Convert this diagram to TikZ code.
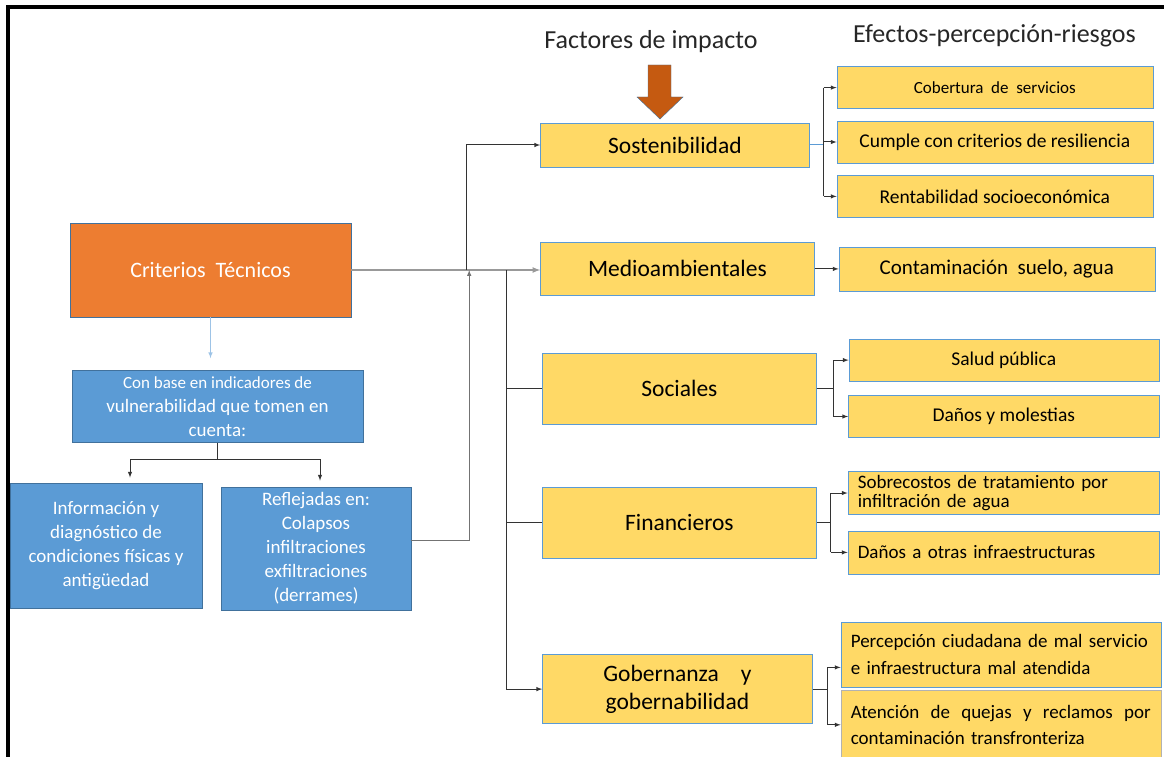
\documentclass[tikz,border=0pt]{standalone}
\usepackage{fontspec}
\setmainfont{Carlito}
\usetikzlibrary{arrows,positioning}

\definecolor{critorange}{HTML}{ED7D31}
\definecolor{boxblue}{HTML}{5B9BD5}
\definecolor{edgeblue}{HTML}{41719C}
\definecolor{factyellow}{HTML}{FFD966}
\definecolor{arrowbrown}{HTML}{C55A11}
\definecolor{lineblue}{HTML}{9DC3E6}
\definecolor{headgray}{HTML}{262626}

\begin{document}
\begin{tikzpicture}[
    x=1pt, y=-1pt, >=latex,
    crit/.style={rectangle, draw=edgeblue, fill=critorange, text=white, minimum width=281pt, minimum height=94pt, font=\fontsize{22}{26}\selectfont},
    basebox/.style={rectangle, draw=edgeblue, fill=boxblue, text=white, align=center, inner sep=1pt, font=\fontsize{19}{24}\selectfont},
    factor/.style={rectangle, draw=boxblue, fill=factyellow, align=center, minimum width=274pt, font=\fontsize{23.5}{28}\selectfont},
    effect/.style={rectangle, draw=boxblue, fill=factyellow, align=center, minimum width=316pt, minimum height=42pt, font=\fontsize{19.5}{24}\selectfont},
    leftbox/.style={align=left, minimum width=0pt, inner xsep=10pt},
    heading/.style={text=headgray, font=\fontsize{26}{30}\selectfont},
    conn/.style={draw=black!80, line width=1pt},
    mainline/.style={draw=black!40, line width=1.6pt}
]
    \useasboundingbox (0,0) rectangle (1167,757);
    \draw[line width=3.5pt] (8,757) -- (8,7) -- (1164,7);

    % Criterios
    \node[crit] (crit) at (210.5,270) {Criterios\ \ Técnicos};
    \node[basebox, minimum width=291pt, minimum height=72pt, below=53pt of crit, xshift=7pt] (conbase) {{\fontsize{17}{23}\selectfont Con base en indicadores de}\\vulnerabilidad que tomen en\\cuenta:};
    \node[basebox, minimum width=192pt, minimum height=125pt, below=40pt of conbase, xshift=-111.5pt] (info) {Información y\\diagnóstico de\\condiciones físicas y\\antigüedad};
    \node[basebox, minimum width=190pt, minimum height=123pt, below=44pt of conbase, xshift=98.5pt] (refl) {Reflejadas en:\\Colapsos\\infiltraciones\\exfiltraciones\\(derrames)};

    % Factores de impacto
    \node[heading] (factores) at (651,42) {Factores de impacto};
    \draw[draw=edgeblue, fill=arrowbrown] (648,65) -- (671,65) -- (671,97) -- (683,97) -- (660,119) -- (637,97) -- (648,97) -- cycle;
    \node[factor, minimum width=269pt, minimum height=44pt, right=189pt of crit, yshift=125pt] (sost) {Sostenibilidad};
    \node[factor, minimum height=53pt, below=75pt of sost.south west, anchor=north west] (medio) {Medioambientales};
    \node[factor, minimum height=71pt, below=57pt of medio.south west, anchor=north west, xshift=2pt] (soc) {Sociales};
    \node[factor, minimum height=71pt, below=63pt of soc.south west, anchor=north west] (fin) {Financieros};
    \node[factor, minimum width=270pt, minimum height=69pt, below=96pt of fin.south west, anchor=north west] (gob) {Gobernanza\hspace{22pt}y\\gobernabilidad};

    % Efectos
    \node[heading] (efectos) at (994.5,36) {Efectos-percepción-riesgos};
    \node[effect, right=27pt of sost, yshift=3pt] (cumple) {Cumple con criterios de resiliencia};
    \node[effect, above=12pt of cumple, font=\fontsize{17}{20}\selectfont] (cober) {Cobertura\ \ de\ \ servicios};
    \node[effect, below=12pt of cumple] (rentab) {Rentabilidad socioeconómica};
    \node[effect, minimum height=44pt, right=24pt of medio, font=\fontsize{21}{24}\selectfont] (contam) {Contaminación\ \ suelo, agua};
    \node[effect, minimum width=310pt, above right=7pt and 32pt of soc.east] (salud) {Salud pública};
    \node[effect, minimum width=311pt, below=14pt of salud] (danos) {Daños y molestias};
    \node[effect, leftbox, text width=291pt, minimum height=43pt, above right=8pt and 31pt of fin.east, font=\fontsize{19}{19.5}\selectfont] (sobre) {Sobrecostos de tratamiento por\\infiltración de agua};
    \node[effect, leftbox, text width=291pt, minimum height=43pt, below=16pt of sobre, font=\fontsize{19}{24}\selectfont] (otras) {Daños a otras infraestructuras};
    \node[effect, leftbox, text width=300pt, minimum height=65pt, above right=2pt and 28pt of gob.east, font=\fontsize{19}{27}\selectfont] (percep) {\mbox{Percepción ciudadana de mal servicio}\\e infraestructura mal atendida};
    \node[effect, leftbox, draw=black!30, text width=300pt, minimum height=69pt, below=3pt of percep, font=\fontsize{19}{26}\selectfont] (atenc) {Atención\hfill de\hfill quejas\hfill y\hfill reclamos\hfill por\\contaminación transfronteriza};

    % Connections left
    \draw[->, draw=lineblue, line width=1pt, shorten >=12pt] (crit.south) -- (crit.south |- conbase.north);
    \coordinate[below=17pt of conbase.south] (jD);
    \draw[conn] (conbase.south) -- (jD);
    \draw[conn, ->, shorten >=5pt] (jD) -| ([xshift=24pt]info.north);
    \draw[conn, ->, shorten >=6pt] (jD) -| ([xshift=4pt]refl.north);

    % Connections middle
    \draw[mainline, ->] (crit.east) -- (crit.east -| medio.west);
    \coordinate[right=115pt of crit.east] (jA);
    \coordinate[right=118pt of crit.east] (jB);
    \coordinate[right=155pt of crit.east] (jC);
    \draw[conn, ->] (jA) |- (sost.west);
    \draw[conn, draw=black!55, ->] ([yshift=8pt]refl.east) -| (jB);
    \draw[conn, ->] (jC) |- (gob.west);
    \draw[conn] (jC |- soc.west) -- (soc.west);
    \draw[conn] (jC |- fin.west) -- (fin.west);

    % Connections right
    \coordinate[right=14pt of sost.east] (bS);
    \draw[conn, draw=boxblue] (sost.east) -- (bS);
    \draw[conn] (bS |- cober.west) -- (bS |- rentab.west);
    \draw[conn, ->] (bS |- cober.west) -- (cober.west);
    \draw[conn, ->] (bS |- cumple.west) -- (cumple.west);
    \draw[conn, ->] (bS |- rentab.west) -- (rentab.west);
    \draw[conn, ->] (medio.east) -- (contam.west);

    \coordinate[right=17pt of soc.east] (bSoc);
    \draw[conn] (soc.east) -- (bSoc);
    \draw[conn] (bSoc |- salud.west) -- (bSoc |- danos.west);
    \draw[conn, ->] (bSoc |- salud.west) -- (salud.west);
    \draw[conn, ->] (bSoc |- danos.west) -- (danos.west);

    \coordinate[right=14pt of fin.east] (bF);
    \draw[conn] (fin.east) -- (bF);
    \draw[conn] (bF |- sobre.west) -- (bF |- otras.west);
    \draw[conn, ->] (bF |- sobre.west) -- (sobre.west);
    \draw[conn, ->] (bF |- otras.west) -- (otras.west);

    \coordinate[right=15pt of gob.east] (bG);
    \draw[conn] (gob.east) -- (bG);
    \draw[conn] ([yshift=-13pt]bG |- percep.west) -- (bG |- atenc.west);
    \draw[conn, ->] ([yshift=-13pt]bG |- percep.west) -- ([yshift=-13pt]percep.west);
    \draw[conn, ->] (bG |- atenc.west) -- (atenc.west);
\end{tikzpicture}
\end{document}
